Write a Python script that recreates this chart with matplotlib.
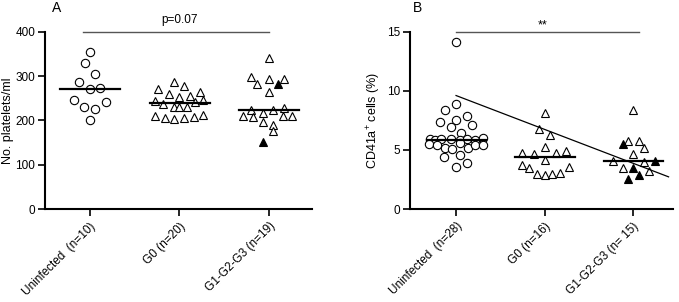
import matplotlib
matplotlib.use("Agg")
import matplotlib.pyplot as plt
import numpy as np

plt.rcParams['font.family'] = ['Liberation Sans', 'DejaVu Sans']
plt.rcParams['mathtext.default'] = 'regular'

# ---------------- data ----------------
categories_a = ["Uninfected  (n=10)", "G0 (n=20)", "G1-G2-G3 (n=19)"]
categories_b = ["Uninfected  (n=28)", "G0 (n=16)", "G1-G2-G3 (n= 15)"]

# Panel A: platelets
a_uninf = [355, 330, 305, 287, 270, 272, 247, 241, 230, 225, 200]
a_uninf_jit = [0, -0.056, 0.063, -0.119, 0, 0.119, -0.179, 0.179, -0.06, 0.06, 0]
a_g0 = [287, 278, 270, 260, 253, 256, 263, 244, 236, 242, 246, 229, 229, 229,
        210, 205, 202, 205, 208, 211]
a_g0_jit = [-0.06, 0.056, -0.24, -0.12, 0, 0.115, 0.235, -0.27, -0.18, 0.175, 0.265,
            -0.06, 0, 0.085, -0.27, -0.16, -0.06, 0.05, 0.16, 0.265]
a_g1 = [341, 297, 281, 293, 281, 293, 263, 223, 210, 208, 216, 223, 227, 210, 210,
        197, 190, 175, 152]
a_g1_jit = [0, -0.2, -0.13, 0, 0.1, 0.17, 0, -0.2, -0.29, -0.18, -0.07, 0.05, 0.17,
            0.16, 0.26, -0.07, 0.045, 0.045, -0.07]
a_g1_filled = [0, 0, 0, 0, 1, 0, 0, 0, 0, 0, 0, 0, 0, 0, 0, 0, 0, 0, 1]
a_pvalue = "p=0.07"

# Panel B: CD41a+ cells (%)
b_uninf = [14.15, 8.85, 8.34, 7.55, 7.36, 7.86, 7.13, 6.94, 6.46,
           5.9, 5.85, 5.9, 5.9, 5.85, 5.9, 5.85, 6.0,
           5.5, 5.39, 5.2, 5.11, 5.59, 5.2, 5.39, 5.39,
           4.4, 4.6, 3.56, 3.85]
b_uninf_jit = [0, 0, -0.124, 0, -0.18, 0.12, 0.18, -0.06, 0.06,
               -0.29, -0.24, -0.17, -0.06, 0.045, 0.12, 0.21, 0.30,
               -0.31, -0.22, -0.12, -0.05, 0.04, 0.13, 0.21, 0.30,
               -0.135, 0.04, 0, 0.12]
b_g0 = [8.1, 6.8, 6.23, 4.78, 4.69, 5.25, 4.74, 4.91, 4.13,
        3.71, 3.43, 3.0, 2.86, 2.92, 3.06, 3.56]
b_g0_jit = [0, -0.065, 0.057, -0.25, -0.12, 0, 0.124, 0.237, 0,
            -0.26, -0.18, -0.087, 0, 0.087, 0.17, 0.27]
b_g1 = [8.34, 5.48, 5.75, 5.75, 5.2, 4.63, 4.07, 3.51, 3.43, 3.99, 4.07, 2.86, 3.23, 2.5]
b_g1_jit = [0, -0.116, -0.053, 0.068, 0.124, 0, -0.23, -0.11, 0, 0.124, 0.25, 0.07,
            0.18, -0.053]
b_g1_filled = [0, 1, 0, 0, 0, 0, 0, 0, 1, 0, 1, 1, 0, 1]
b_trend_x = [0, 2.4]
b_trend_y = [9.6, 2.72]
b_sig = "**"

# ---------------- figure ----------------
fig = plt.figure(figsize=(6.79, 3.02), dpi=100)
axA = fig.add_axes([45/679, 1-209/302, (312-45)/679, (209-31.7)/302])
axB = fig.add_axes([410/679, 1-209/302, (673-410)/679, (209-31.7)/302])

ms = 6.0
mew = 0.8


def group(ax, xc, vals, jit, marker, filled=None):
    vals = np.asarray(vals, float)
    xs = xc + np.asarray(jit, float)
    if filled is None:
        filled = np.zeros(len(vals), int)
    filled = np.asarray(filled, bool)
    ax.plot(xs[~filled], vals[~filled], linestyle='none', marker=marker, ms=ms,
            mfc='white', mec='black', mew=mew, zorder=3)
    if filled.any():
        ax.plot(xs[filled], vals[filled], linestyle='none', marker=marker, ms=ms,
                mfc='black', mec='black', mew=mew, zorder=3)
    med = np.median(vals)
    ax.plot([xc - 0.33, xc + 0.34], [med, med], color='black', lw=1.6, zorder=4)


def style(ax, ylim, yticks, cats):
    ax.set_xlim(-0.5, 2.48)
    ax.set_ylim(*ylim)
    ax.set_yticks(yticks)
    ax.set_xticks([0, 1, 2])
    ax.set_xticklabels(cats, rotation=45, ha='right', rotation_mode='anchor',
                       fontsize=8)
    for s in ['top', 'right']:
        ax.spines[s].set_visible(False)
    for s in ['left', 'bottom']:
        ax.spines[s].set_linewidth(1.5)
    ax.tick_params(axis='both', direction='out', length=5, width=1.2,
                   labelsize=8.5, pad=2)
    ax.tick_params(axis='x', pad=3)


# Panel A
group(axA, 0, a_uninf, a_uninf_jit, 'o')
group(axA, 1, a_g0, a_g0_jit, '^')
group(axA, 2, a_g1, a_g1_jit, '^', a_g1_filled)
style(axA, (0, 400), [0, 100, 200, 300, 400], categories_a)
axA.plot([-0.08, 2.0], [400, 400], color='#555555', lw=1.0, clip_on=False)
axA.text(1.0, 412, a_pvalue, ha='center', va='bottom', fontsize=8.5)
axA.set_ylabel("No. platelets/ml", fontsize=9, labelpad=1)
fig.text(57/679, 1-8/302, "A", ha='center', va='center', fontsize=10)

# Panel B
group(axB, 0, b_uninf, b_uninf_jit, 'o')
group(axB, 1, b_g0, b_g0_jit, '^')
group(axB, 2, b_g1, b_g1_jit, '^', b_g1_filled)
style(axB, (0, 15), [0, 5, 10, 15], categories_b)
axB.set_xlim(-0.52, 2.45)
axB.plot(b_trend_x, b_trend_y, color='black', lw=0.9, zorder=5)
axB.plot([0.0, 2.07], [15, 15], color='#555555', lw=1.0, clip_on=False)
axB.text(0.98, 15.05, b_sig, ha='center', va='bottom', fontsize=9)
axB.set_ylabel("CD41a$^{+}$ cells (%)", fontsize=9, labelpad=3)
fig.text(417/679, 1-8/302, "B", ha='center', va='center', fontsize=10)

fig.savefig("out.png", dpi=100)
